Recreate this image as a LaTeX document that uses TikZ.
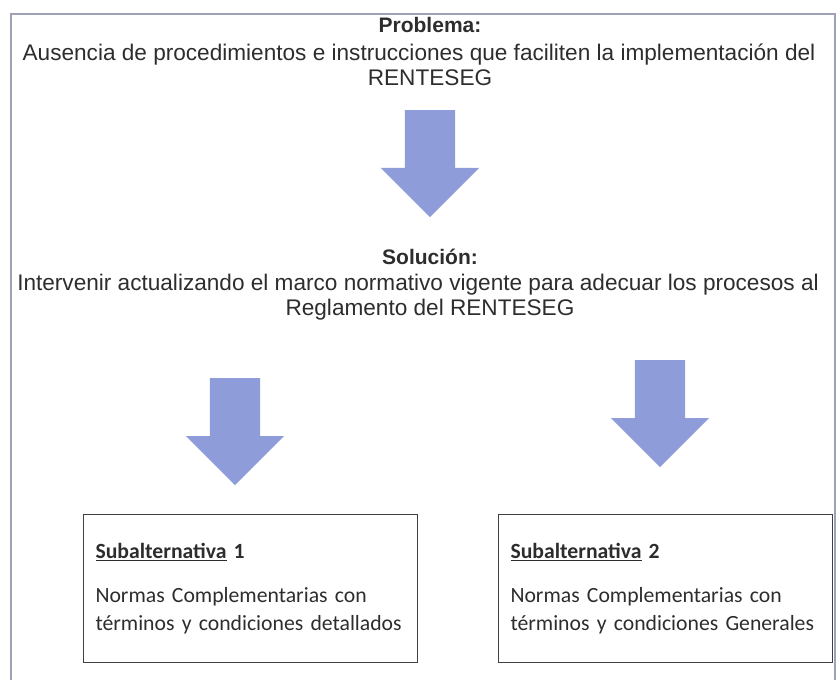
\documentclass[tikz,border=0pt]{standalone}
\usepackage{fontspec}
\setmainfont{Liberation Sans}
\newfontfamily\calibri{Carlito}
\usetikzlibrary{shapes.arrows, positioning}

\definecolor{arrowblue}{RGB}{142,156,218}
\definecolor{framegray}{RGB}{158,162,182}
\definecolor{textgray}{RGB}{45,45,45}

\begin{document}
\begin{tikzpicture}[
    x=1pt, y=-1pt,
    heading/.style={inner sep=0pt, anchor=base, text=textgray, font=\fontsize{21}{25}\selectfont\bfseries},
    statement/.style={inner sep=0pt, anchor=base, align=center, text=textgray, font=\fontsize{22.6}{25}\selectfont},
    down arrow/.style={single arrow, shape border rotate=270, fill=arrowblue, inner sep=25pt, minimum height=107pt, single arrow head extend=24pt, anchor=tail},
    alt box/.style={draw=black!75, line width=1pt, rectangle, anchor=north west, minimum width=334pt, minimum height=148pt, inner xsep=12pt, text width=310pt, align=left, text=textgray, font=\calibri\fontsize{21.7}{28}\selectfont}
]
    \useasboundingbox (0,0) rectangle (836,680);

    % ================= FRAME =================
    \draw[framegray, line width=2pt] (11,682) -- (11,14) -- (835,14) -- (835,682);

    % ================= PROBLEM & SOLUTION =================
    \node[heading] (PROBT) at (430,32) {Problema:};
    \node[statement] (PROB) at (430,85) {Ausencia de procedimientos e instrucciones que faciliten la implementación del\kern22pt\\RENTESEG};

    \node[heading] (SOLT) at (430,264) {Solución:};
    \node[statement] (SOL) at (430,315) {Intervenir actualizando el marco normativo vigente para adecuar los procesos al\kern24pt\\Reglamento del RENTESEG};

    % ================= ARROWS =================
    \node[down arrow] (ARR1) at (430,110) {};
    \node[down arrow] (ARR2) at (235,378) {};
    \node[down arrow] (ARR3) at (660,360) {};

    % ================= SUBALTERNATIVES =================
    \node[alt box] (SUB1) at (83,514) {\textbf{\underline{Subalternativa} 1}\\[16pt]Normas Complementarias con\\términos y condiciones detallados};
    \node[alt box] (SUB2) at (498,514) {\textbf{\underline{Subalternativa} 2}\\[16pt]Normas Complementarias con\\términos y condiciones Generales};

\end{tikzpicture}
\end{document}
